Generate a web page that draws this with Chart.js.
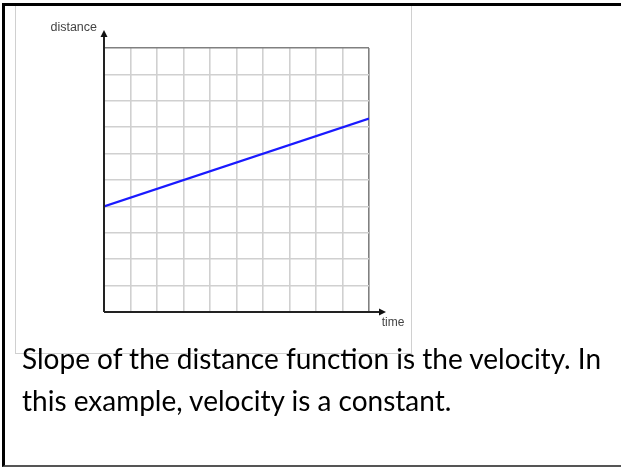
<!DOCTYPE html>
<html lang="en">
<head>
    <meta charset="UTF-8">
    <title>Distance vs time</title>
    <script src="https://cdn.jsdelivr.net/npm/chart.js@4.4.0/dist/chart.umd.min.js"></script>
    <style>
        body {
            margin: 0;
            background: #fff;
            width: 621px;
            height: 468px;
            overflow: hidden;
            position: relative;
        }
        .cell {
            position: absolute;
            left: 2px;
            top: 3px;
            width: 660px;
            height: 459px;
            border-left: 3px solid #000;
            border-top: 3px solid #000;
            border-bottom: 2px solid #555;
        }
        .figure {
            position: absolute;
            left: 15px;
            top: 6px;
            width: 395px;
            height: 347px;
            border-left: 1px solid #d0d0d0;
            border-right: 1px solid #d0d0d0;
            border-bottom: 1px solid #d0d0d0;
        }
        .figure canvas {
            position: absolute;
            left: 0;
            top: 0;
        }
        .caption {
            position: absolute;
            left: 22px;
            top: 338px;
            font-family: Lato, sans-serif;
            font-size: 28px;
            line-height: 41.7px;
            color: #000;
            margin: 0;
            white-space: nowrap;
        }
    </style>
</head>
<body>
    <div class="cell"></div>
    <div class="figure">
        <canvas id="motionChart" width="395" height="347"></canvas>
    </div>
    <p class="caption">Slope of the distance function is the velocity. In<br>this example, velocity is a constant.</p>

    <script>
        // time and distance readings for the constant-velocity line
        const timeValues = [0, 10];
        const distanceValues = [4, 7.33];

        // grid runs 0..10 on both axes, one line per unit
        const axisMin = 0;
        const axisMax = 10;
        const xLabel = 'time';
        const yLabel = 'distance';

        const points = timeValues.map((t, i) => ({ x: t, y: distanceValues[i] }));

        // darker edge on the far side of the grid, light lines inside
        function gridColour(ctx) {
            if (ctx.tick && ctx.tick.value === axisMax) return '#808080';
            return '#d0d0d0';
        }

        // axis arrows and the two axis names
        const axisArrows = {
            id: 'axisArrows',
            afterDraw(chart) {
                const { ctx, chartArea } = chart;
                const left = chartArea.left;
                const bottom = chartArea.bottom;
                ctx.save();
                ctx.strokeStyle = '#222';
                ctx.fillStyle = '#111';
                ctx.lineWidth = 2;

                // y axis runs past the grid up to the arrow
                ctx.beginPath();
                ctx.moveTo(left, bottom);
                ctx.lineTo(left, chartArea.top - 12);
                ctx.stroke();
                ctx.beginPath();
                ctx.moveTo(left, chartArea.top - 18);
                ctx.lineTo(left - 3.5, chartArea.top - 11);
                ctx.lineTo(left + 3.5, chartArea.top - 11);
                ctx.closePath();
                ctx.fill();

                // x axis runs past the grid to the right
                ctx.beginPath();
                ctx.moveTo(left, bottom);
                ctx.lineTo(chartArea.right + 11, bottom);
                ctx.stroke();
                ctx.beginPath();
                ctx.moveTo(chartArea.right + 17, bottom);
                ctx.lineTo(chartArea.right + 10, bottom - 3.5);
                ctx.lineTo(chartArea.right + 10, bottom + 3.5);
                ctx.closePath();
                ctx.fill();

                ctx.fillStyle = '#444';
                ctx.font = '12.5px "Liberation Sans", Arial, sans-serif';
                ctx.textBaseline = 'middle';
                ctx.textAlign = 'right';
                ctx.fillText(yLabel, left - 7, chartArea.top - 20);
                ctx.textAlign = 'center';
                ctx.font = '12px "Liberation Sans", Arial, sans-serif';
                ctx.fillText(xLabel, chartArea.right + 24, bottom + 11);
                ctx.restore();
            }
        };

        new Chart(document.getElementById('motionChart'), {
            type: 'scatter',
            data: {
                datasets: [{
                    data: points,
                    showLine: true,
                    borderColor: '#1a1aff',
                    borderWidth: 2.2,
                    pointRadius: 0,
                    fill: false
                }]
            },
            options: {
                responsive: false,
                animation: false,
                events: [],
                layout: {
                    padding: { left: 88, top: 42, right: 42, bottom: 41 }
                },
                plugins: {
                    legend: { display: false },
                    tooltip: { enabled: false }
                },
                scales: {
                    x: {
                        type: 'linear',
                        min: axisMin,
                        max: axisMax,
                        ticks: { display: false, stepSize: 1 },
                        grid: { color: gridColour, lineWidth: 1.6, drawTicks: false },
                        border: { display: false }
                    },
                    y: {
                        type: 'linear',
                        min: axisMin,
                        max: axisMax,
                        ticks: { display: false, stepSize: 1 },
                        grid: { color: gridColour, lineWidth: 1.6, drawTicks: false },
                        border: { display: false }
                    }
                }
            },
            plugins: [axisArrows]
        });
    </script>
</body>
</html>
